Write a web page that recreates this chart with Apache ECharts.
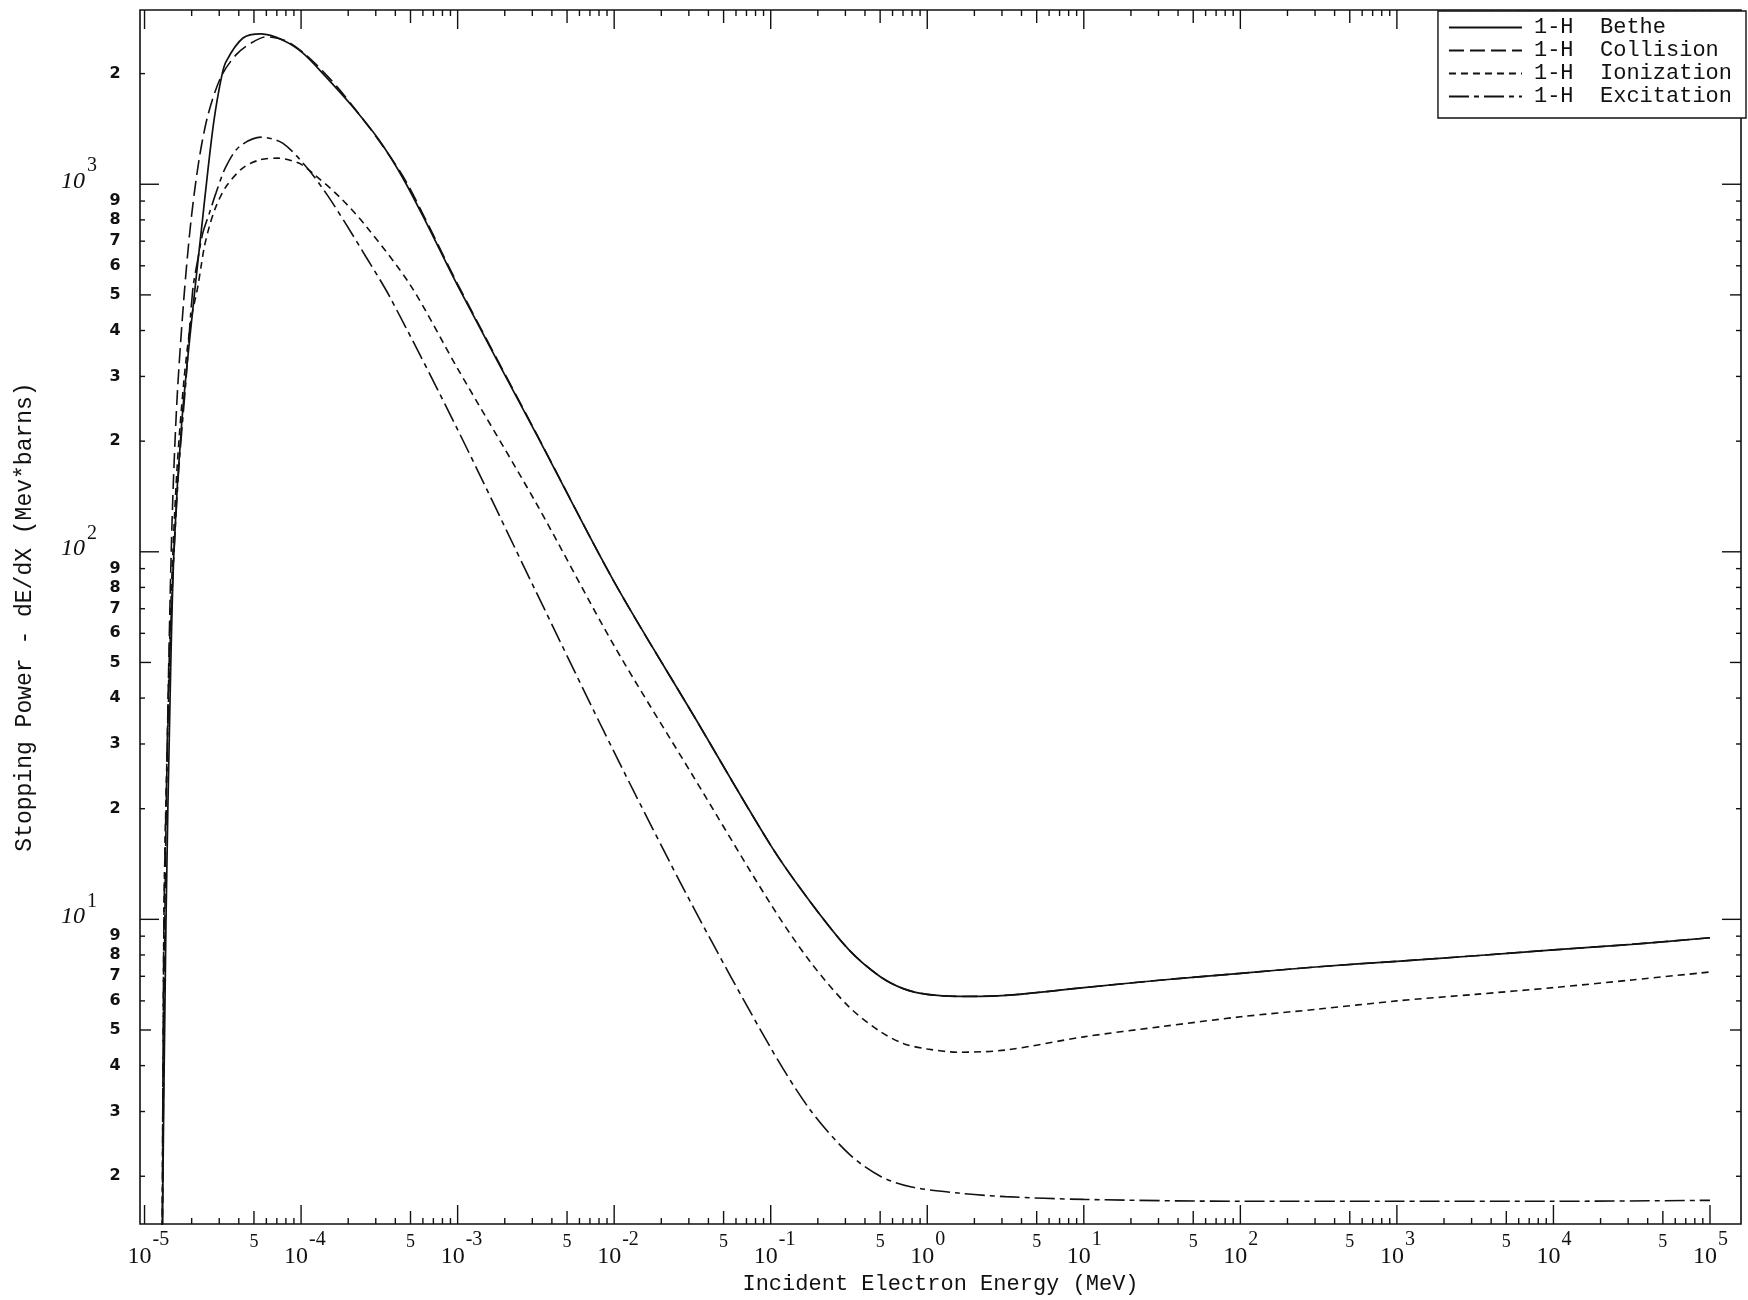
<!DOCTYPE html>
<html><head><meta charset="utf-8">
<script src="https://cdn.jsdelivr.net/npm/echarts@6/dist/echarts.min.js"></script>
<style>html,body{margin:0;padding:0;background:#fff}#c{width:1748px;height:1300px}</style>
</head><body><div id="c"></div>
<script>
// ---- data: [energy (MeV), stopping power (MeV*barns)] ----
const bethe = [
  [1.288e-5,1.0],[1.371e-5,9.95],[1.455e-5,39.5],[1.542e-5,101],[1.734e-5,229],[2.070e-5,491],
  [2.296e-5,736],[2.541e-5,1094],[2.780e-5,1496],[3.076e-5,1923],[3.311e-5,2153],[4.256e-5,2500],
  [5.546e-5,2564],[7.656e-5,2466],[1.028e-4,2275],[1.442e-4,1959],[2.143e-4,1622],[3.141e-4,1321],
  [4.467e-4,1040],[6.266e-4,790],[1.0e-3,530],[3.162e-3,210],[1.0e-2,82.8],[3.162e-2,36.3],
  [0.1,15.9],[0.1778,11.2],[0.3162,8.26],[0.5012,6.98],[0.7079,6.47],[1.0,6.25],[1.585,6.17],
  [3.162,6.21],[10,6.52],[31.62,6.84],[100,7.13],[316.2,7.43],[1000,7.69],[3162,7.96],
  [1.0e4,8.26],[3.162e4,8.55],[1.0e5,8.91]
];
const collision = [
  [1.294e-5,1.0],[1.352e-5,11.3],[1.413e-5,39.5],[1.500e-5,122],[1.611e-5,258],[1.786e-5,493],
  [1.982e-5,798],[2.228e-5,1164],[2.541e-5,1542],[3.076e-5,1959],[3.837e-5,2249],[4.786e-5,2421],
  [5.970e-5,2518],[7.998e-5,2455],[1.074e-4,2249],[1.552e-4,1923],[2.239e-4,1592],[3.327e-4,1271],
  [4.667e-4,1020],[6.546e-4,770],[1.0e-3,535],[3.162e-3,211],[1.0e-2,82.8],[3.162e-2,36.3],
  [0.1,15.9],[0.1778,11.2],[0.3162,8.26],[0.5012,6.98],[0.7079,6.47],[1.0,6.25],[1.585,6.17],
  [3.162,6.21],[10,6.52],[31.62,6.84],[100,7.13],[316.2,7.43],[1000,7.69],[3162,7.96],
  [1.0e4,8.26],[3.162e4,8.55],[1.0e5,8.91]
];
const ionization = [
  [1.294e-5,1.0],[1.330e-5,9.95],[1.393e-5,28.8],[1.476e-5,74],[1.611e-5,167],[1.786e-5,293],
  [1.982e-5,427],[2.188e-5,526],[2.296e-5,597],[2.410e-5,676],[2.594e-5,767],[2.858e-5,869],
  [3.311e-5,984],[4.236e-5,1107],[5.408e-5,1164],[7.079e-5,1178],[9.727e-5,1140],[1.186e-4,1072],
  [1.754e-4,925],[2.594e-4,770],[5.012e-4,530],[1.0e-3,315],[3.162e-3,136],[1.0e-2,55.5],
  [3.162e-2,24.7],[0.1,11.0],[0.1778,7.69],[0.3162,5.78],[0.5012,4.95],[0.7079,4.59],[1.0,4.44],
  [1.585,4.35],[3.162,4.41],[10,4.79],[31.62,5.11],[100,5.43],[316.2,5.70],[1000,6.00],
  [3162,6.25],[1.0e4,6.52],[3.162e4,6.84],[1.0e5,7.19]
];
const excitation = [
  [1.294e-5,1.0],[1.330e-5,9.95],[1.393e-5,26.9],[1.476e-5,65.3],[1.637e-5,157],[1.841e-5,294],
  [2.032e-5,516],[2.188e-5,624],[2.355e-5,736],[2.594e-5,834],[2.858e-5,946],[3.311e-5,1117],
  [4.027e-5,1265],[5.546e-5,1343],[7.621e-5,1294],[1.074e-4,1117],[1.442e-4,946],[1.932e-4,780],
  [2.594e-4,635],[3.715e-4,491],[1.0e-3,215],[3.162e-3,78],[1.0e-2,28.5],[3.162e-2,10.9],
  [0.1,4.47],[0.1778,3.04],[0.3162,2.30],[0.5012,2.00],[0.7943,1.87],[1.585,1.80],[3.162,1.76],
  [10,1.73],[100,1.71],[1000,1.71],[1.0e4,1.71],[1.0e5,1.72]
];

const seriesNames = ['Bethe','Collision','Ionization','Excitation'];
const legendPrefix = '1-H  ';

// ---- axis ticks / labels ----
const xMajorTicks = [1e-5,1e-4,1e-3,1e-2,1e-1,1e0,1e1,1e2,1e3,1e4,1e5];
const xMajorExp   = ['-5','-4','-3','-2','-1','0','1','2','3','4','5'];
const xFiveTicks  = [5e-5,5e-4,5e-3,5e-2,5e-1,5e0,5e1,5e2,5e3,5e4];
const xFiveLabel  = '5';
const minorMult   = [2,3,4,6,7,8,9];
const yMajorTicks = [1e1,1e2,1e3];
const yMajorExp   = ['1','2','3'];
const yDecades    = [1,10,100,1000];
const yMinorDigits = ['2','3','4','5','6','7','8','9'];
const yMinorMult   = [2,3,4,5,6,7,8,9];

const X_MIN = 9.354e-6, X_MAX = 1.578e5;
const Y_MIN = 1.483,   Y_MAX = 2979;

// rows for the tick series: [x, y, kind, labelIndex]
const xTickRows = [];
xMajorTicks.forEach((v,i)=>xTickRows.push([v,Y_MIN,0,i]));
xFiveTicks.forEach((v,i)=>xTickRows.push([v,Y_MIN,1,i]));
xMajorTicks.forEach(d=>minorMult.forEach(m=>{const v=d*m; if(v>X_MIN&&v<X_MAX) xTickRows.push([v,Y_MIN,2,-1]);}));
const yTickRows = [];
yMajorTicks.forEach((v,i)=>yTickRows.push([X_MIN,v,0,i]));
yDecades.forEach(d=>yMinorMult.forEach((m,j)=>{const v=d*m; if(v>Y_MIN&&v<Y_MAX) yTickRows.push([X_MIN,v,m===5?1:2,j]);}));

const INK = '#111';
const tickStyle = {stroke: INK, lineWidth: 1.4};
function txt(x,y,t,font,align){
  return {type:'text', x:x, y:y, style:{text:t, font:font, fill:INK,
    textAlign:align, textVerticalAlign:'middle', align:align, verticalAlign:'middle'}};
}
const X_LEN = [19,13,6], Y_LEN = [19,11,5];

function renderXTicks(params, api){
  const cs = params.coordSys;
  const row = xTickRows[params.dataIndex];
  const x = api.coord([row[0], Y_MIN])[0];
  const top = cs.y, bot = cs.y + cs.height, L = X_LEN[row[2]];
  const ch = [
    {type:'line', shape:{x1:x,y1:bot,x2:x,y2:bot-L}, style:tickStyle},
    {type:'line', shape:{x1:x,y1:top,x2:x,y2:top+L}, style:tickStyle}
  ];
  if(row[2]===0){
    ch.push(txt(x-5, bot+33, '10', '24px "Liberation Serif"', 'center'));
    ch.push(txt(x+8, bot+16, xMajorExp[row[3]], '20px "Liberation Serif"', 'left'));
  } else if(row[2]===1){
    ch.push(txt(x, bot+18, xFiveLabel, '18px "Liberation Serif"', 'center'));
  }
  return {type:'group', children:ch};
}
function renderYTicks(params, api){
  const cs = params.coordSys;
  const row = yTickRows[params.dataIndex];
  const y = api.coord([X_MIN, row[1]])[1];
  const left = cs.x, right = cs.x + cs.width, L = Y_LEN[row[2]];
  const ch = [
    {type:'line', shape:{x1:left,y1:y,x2:left+L,y2:y}, style:tickStyle},
    {type:'line', shape:{x1:right,y1:y,x2:right-L,y2:y}, style:tickStyle}
  ];
  if(row[2]===0){
    ch.push(txt(85, y-3, '10', 'italic 24px "Liberation Serif"', 'right'));
    ch.push(txt(87, y-18, yMajorExp[row[3]], '20px "Liberation Serif"', 'left'));
  } else {
    ch.push(txt(115, y, yMinorDigits[row[3]], 'bold 16px "DejaVu Sans"', 'center'));
  }
  return {type:'group', children:ch};
}

const lineCommon = {type:'line', showSymbol:false, symbol:'none', smooth:0.3,
  clip:true, silent:true};
const chart = echarts.init(document.getElementById('c'), null, {renderer:'canvas'});
chart.setOption({
  animation:false,
  backgroundColor:'#fff',
  grid:{left:140, top:10, right:7, bottom:76, containLabel:false, outerBoundsMode:'none',
    show:true, borderColor:INK, borderWidth:1.6, backgroundColor:'transparent'},
  xAxis:{type:'log', min:X_MIN, max:X_MAX, logBase:10,
    name:'Incident Electron Energy (MeV)', nameLocation:'middle', nameGap:49,
    nameTextStyle:{fontFamily:'Liberation Mono', fontSize:22, color:INK},
    axisLine:{show:false}, axisTick:{show:false}, axisLabel:{show:false}, splitLine:{show:false}},
  yAxis:{type:'log', min:Y_MIN, max:Y_MAX, logBase:10,
    name:'Stopping Power - dE/dX (Mev*barns)', nameLocation:'middle', nameGap:104,
    nameTextStyle:{fontFamily:'Liberation Mono', fontSize:23, color:INK},
    axisLine:{show:false}, axisTick:{show:false}, axisLabel:{show:false}, splitLine:{show:false}},
  legend:{data:seriesNames, orient:'vertical', right:2, top:11,
    formatter:n=>legendPrefix+n, itemWidth:73, itemHeight:14, itemGap:0,
    padding:[5,14,10,10], borderColor:INK, borderWidth:1.4, backgroundColor:'#fff',
    itemStyle:{color:'rgba(0,0,0,0)', borderWidth:0, opacity:0},
    textStyle:{fontFamily:'Liberation Mono', fontSize:22, color:INK, lineHeight:23, padding:[0,0,0,7]},
    selectedMode:false, z:10},
  series:[
    Object.assign({}, lineCommon, {name:seriesNames[0], data:bethe, lineStyle:{color:INK,width:1.7,type:'solid'}, itemStyle:{color:INK}}),
    Object.assign({}, lineCommon, {name:seriesNames[1], data:collision, lineStyle:{color:INK,width:1.6,type:[15,6]}, itemStyle:{color:INK}}),
    Object.assign({}, lineCommon, {name:seriesNames[2], data:ionization, lineStyle:{color:INK,width:1.6,type:[7,5]}, itemStyle:{color:INK}}),
    Object.assign({}, lineCommon, {name:seriesNames[3], data:excitation, lineStyle:{color:INK,width:1.6,type:[20,5,5,5]}, itemStyle:{color:INK}}),
    {type:'custom', name:'xticks', data:xTickRows, renderItem:renderXTicks, clip:false, silent:true, z:5, encode:{x:0,y:1}},
    {type:'custom', name:'yticks', data:yTickRows, renderItem:renderYTicks, clip:false, silent:true, z:5, encode:{x:0,y:1}}
  ]
});
</script></body></html>
